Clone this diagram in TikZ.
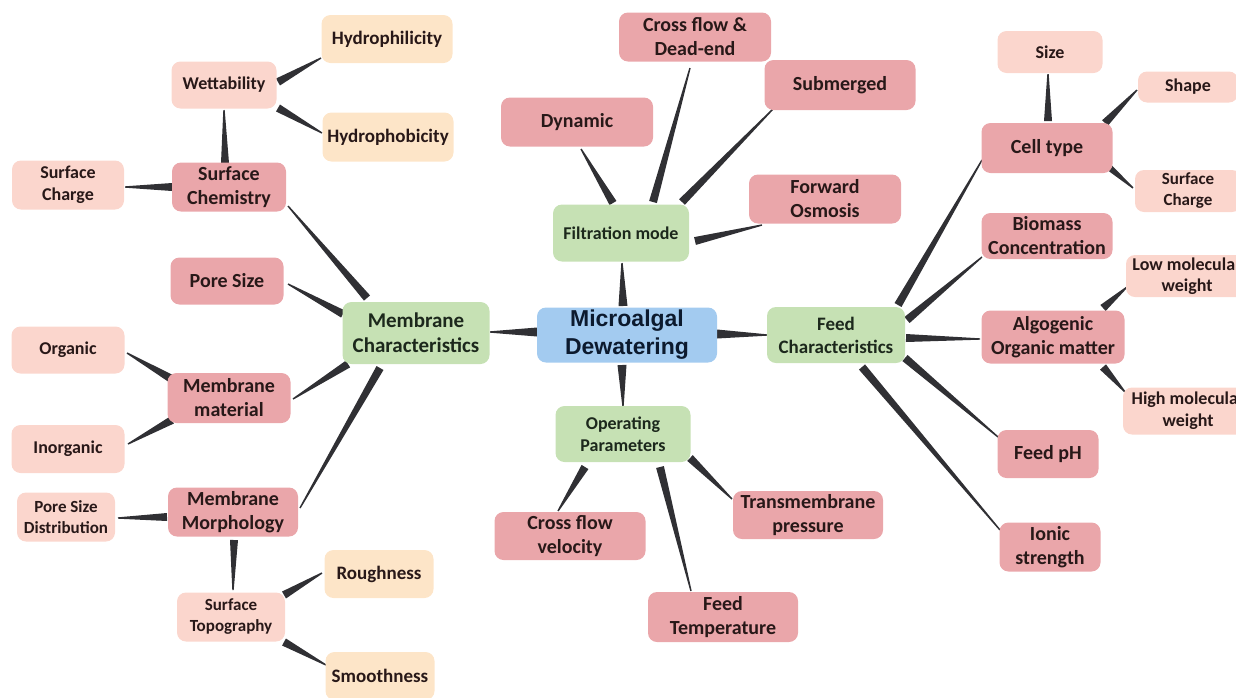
\documentclass[tikz,border=0pt]{standalone}
\usepackage{fontspec}
\setmainfont{Carlito}
\font\cenfont="Liberation Sans/B" at 23pt
\usetikzlibrary{calc,backgrounds}
\definecolor{cblue}{RGB}{163,203,240}
\definecolor{cgreen}{RGB}{198,225,180}
\definecolor{cdpink}{RGB}{234,166,170}
\definecolor{clpink}{RGB}{251,214,205}
\definecolor{cpeach}{RGB}{253,229,200}
\definecolor{ctxt}{RGB}{40,24,24}
\definecolor{cgtxt}{RGB}{28,40,28}
\definecolor{cctxt}{RGB}{12,26,46}
\definecolor{cconn}{RGB}{48,48,52}
\newcommand\taper[5][4]{%
  \path ($(#2)+(#3)$) coordinate (tA) ($(#4)+(#5)$) coordinate (tB);
  \fill[conn] ($(tA)!#1pt!90:(tB)$) -- ($(tA)!#1pt!-90:(tB)$)
     -- ($(tB)!0.7pt!90:(tA)$) -- ($(tB)!0.7pt!-90:(tA)$) -- cycle;}
\begin{document}
\begin{tikzpicture}[x=1pt,y=-1pt,
  conn/.style={fill=cconn},
  bx/.style 2 args={minimum width=#1pt, minimum height=#2pt},
  box/.style={rounded corners=9pt, inner sep=0pt, align=center, text=ctxt},
  centre/.style={box, fill=cblue, text=cctxt, font=\fontsize{23}{28}\selectfont\cenfont},
  main/.style={box, fill=cgreen, text=cgtxt, font=\bfseries\fontsize{19}{23}\selectfont},
  sub/.style={box, fill=cdpink, font=\bfseries\fontsize{20}{24}\selectfont},
  leaf/.style={box, fill=clpink, font=\bfseries\fontsize{18}{22}\selectfont},
  peach/.style={box, fill=cpeach, font=\bfseries\fontsize{19}{22}\selectfont}]
\useasboundingbox (0,0) rectangle (1236,697);
\clip (0,0) rectangle (1236,697);
% centre and main branches
\node[centre, bx={180}{55}] (cen) at (627,335) {Microalgal\\Dewatering};
\node[main, bx={147}{62}, font=\bfseries\fontsize{21}{25}\selectfont] (mc) at (416,333) {Membrane\\Characteristics};
\node[main, bx={138}{56}] (fc) at (836,335) {Feed\\Characteristics};
\node[main, bx={136}{57}, font=\bfseries\fontsize{18}{22}\selectfont] (fm) at (621,233) {Filtration mode};
\node[main, bx={135}{56}, font=\bfseries\fontsize{18}{22}\selectfont] (op) at (623,434) {Operating\\Parameters};
% filtration mode
\node[sub, bx={152}{49}] (cfde) at (695,37) {Cross flow \&\\Dead-end};
\node[sub, bx={151}{50}] (subm) at (840,85) {Submerged};
\node[sub, bx={152}{49}] (dyn) at (577,122) {Dynamic};
\node[sub, bx={152}{49}] (fo) at (825,199) {Forward\\Osmosis};
% operating parameters
\node[sub, bx={151}{48}] (cfv) at (570,536) {Cross flow\\velocity};
\node[sub, bx={150}{48}] (tmp) at (808,515) {Transmembrane\\pressure};
\node[sub, bx={150}{50}] (ft) at (723,617) {Feed\\Temperature};
% membrane characteristics
\node[sub, bx={114}{49}] (sc) at (229,187) {Surface\\Chemistry};
\node[leaf, bx={105}{47}] (wet) at (224,85) {Wettability};
\node[peach, bx={131}{48}] (hphil) at (387,39) {Hydrophilicity};
\node[peach, bx={131}{49}] (hphob) at (388,137) {Hydrophobicity};
\node[leaf, bx={112}{49}] (sch) at (68,185) {Surface\\Charge};
\node[sub, bx={113}{47}] (ps) at (227,281) {Pore Size};
\node[sub, bx={123}{50}] (mm) at (229,398) {Membrane\\material};
\node[leaf, bx={113}{47}] (org) at (68,350) {Organic};
\node[leaf, bx={113}{48}] (inorg) at (68,449) {Inorganic};
\node[sub, bx={130}{49}] (mmor) at (233,512) {Membrane\\Morphology};
\node[leaf, bx={98}{49}, font=\bfseries\fontsize{17}{21}\selectfont] (psd) at (66,517) {Pore Size\\Distribution};
\node[leaf, bx={108}{49}, font=\bfseries\fontsize{17}{21}\selectfont] (st) at (231,617) {Surface\\Topography};
\node[peach, bx={109}{48}] (rough) at (379,574) {Roughness};
\node[peach, bx={109}{48}] (smooth) at (380,676) {Smoothness};
% feed characteristics
\node[sub, bx={131}{50}] (ct) at (1047,148) {Cell type};
\node[leaf, bx={105}{42}] (size) at (1050,52) {Size};
\node[leaf, bx={100}{31}] (shape) at (1188,87) {Shape};
\node[leaf, bx={106}{42}, font=\bfseries\fontsize{17}{21}\selectfont] (sch2) at (1188,191) {Surface\\Charge};
\node[sub, bx={131}{46}] (bc) at (1047,236) {Biomass\\Concentration};
\node[sub, bx={143}{53}] (aom) at (1053,337) {Algogenic\\Organic matter};
\node[leaf, bx={122}{42}, font=\bfseries\fontsize{18}{21}\selectfont] (lmw) at (1187,276) {Low molecular\\weight};
\node[leaf, bx={130}{47}, font=\bfseries\fontsize{18}{22}\selectfont] (hmw) at (1188,411) {High molecular\\weight};
\node[sub, bx={101}{48}] (fph) at (1048,454) {Feed pH};
\node[sub, bx={101}{49}] (ion) at (1050,547) {Ionic\\strength};
% connectors
\begin{scope}[on background layer]
\taper[4.5]{cen}{-90,-3}{mc}{74,-1}
\taper[4.5]{cen}{90,-1}{fc}{-69,0}
\taper[4.5]{cen}{-4,-29}{fm}{1,30}
\taper[4.5]{cen}{-5,30}{op}{0,-28}
\taper{fm}{-8,-30}{dyn}{4,27}
\taper{fm}{32,-31}{cfde}{-5,31}
\taper{fm}{61,-31}{subm}{-67,24}
\taper{fm}{74,8}{fo}{-63,26}
\taper{op}{-38,33}{cfv}{-12,-25}
\taper{op}{37,33}{ft}{-32,-26}
\taper{op}{67,24}{tmp}{-76,-16}
\taper{mc}{-73,-19}{ps}{61,3}
\taper{mc}{-49,-35}{sc}{59,19}
\taper{mc}{-68,31}{mm}{64,1}
\taper{mc}{-36,35}{mmor}{67,-4}
\taper{sc}{-4,-24}{wet}{0,25}
\taper{sc}{-57,0}{sch}{57,2}
\taper{wet}{54,-3}{hphil}{-66,19}
\taper{wet}{54,23}{hphob}{-66,-4}
\taper{mm}{-59,-20}{org}{59,3}
\taper{mm}{-57,22}{inorg}{60,-5}
\taper{mmor}{-66,5}{psd}{52,1}
\taper{mmor}{1,28}{st}{2,-27}
\taper{st}{53,-22}{rough}{-57,-1}
\taper{st}{53,25}{smooth}{-54,-11}
\taper{fc}{62,-30}{ct}{-65,12}
\taper{fc}{71,-15}{bc}{-65,21}
\taper{fc}{70,3}{aom}{-73,2}
\taper{fc}{69,23}{fph}{-50,-17}
\taper{fc}{26,32}{ion}{-50,-17}
\taper{ct}{1,-27}{size}{-2,22}
\taper{ct}{58,-25}{shape}{-51,3}
\taper{ct}{56,14}{sch2}{-55,-3}
\taper{aom}{50,-29}{lmw}{-60,11}
\taper{aom}{50,30}{hmw}{-63,-19}
\end{scope}
\end{tikzpicture}
\end{document}
